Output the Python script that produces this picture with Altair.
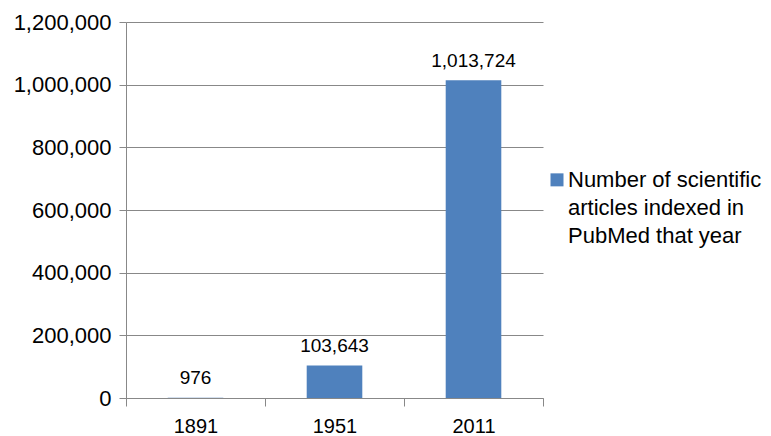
import altair as alt
import pandas as pd

years = ["1891", "1951", "2011"]
counts = [976, 103643, 1013724]
series_name = "Number of scientific articles indexed in PubMed that year"
legend_lines = ["Number of scientific", "articles indexed in", "PubMed that year"]
y_ticks = [0, 200000, 400000, 600000, 800000, 1000000, 1200000]

df = pd.DataFrame({"year": years, "count": counts, "series": [series_name] * len(years)})

FONT = "Liberation Sans"
GRID = "#888888"
BLUE = "#4F81BD"

label_expr = "[" + ",".join("'" + s + "'" for s in legend_lines) + "]"
# square swatch, raised so that it sits beside the first text line
SWATCH = "M-1,-2.1L1,-2.1L1,-0.1L-1,-0.1Z"

base = alt.Chart(df).encode(
    x=alt.X(
        "year:N",
        sort=years,
        scale=alt.Scale(paddingInner=0, paddingOuter=0),
        axis=alt.Axis(
            title=None, labelAngle=0, tickBand="extent", grid=False,
            domainColor=GRID, tickColor=GRID, tickSize=8, labelPadding=10,
            labelFontSize=20, labelFont=FONT, labelColor="#000000",
        ),
    ),
    y=alt.Y(
        "count:Q",
        scale=alt.Scale(domain=[0, 1200000], nice=False),
        axis=alt.Axis(
            title=None, values=y_ticks, format=",.0f", grid=True, gridColor=GRID,
            domainColor=GRID, tickColor=GRID, tickSize=7, labelPadding=8,
            labelFontSize=22, labelFont=FONT, labelColor="#000000",
        ),
    ),
)

bars = base.mark_bar(width=alt.RelativeBandSize(0.4)).encode(
    color=alt.Color(
        "series:N",
        scale=alt.Scale(range=[BLUE]),
        legend=alt.Legend(
            title=None, orient="none", legendX=420, legendY=154, padding=0,
            symbolType=SWATCH, symbolSize=169, symbolStrokeWidth=0,
            symbolOpacity=1, symbolFillColor=BLUE, labelOffset=0, labelFontSize=22,
            labelFont=FONT, labelColor="#000000", labelLimit=400, labelExpr=label_expr,
            labelBaseline="alphabetic",
        ),
    )
)

text = base.mark_text(baseline="alphabetic", dy=-13.5, fontSize=19, font=FONT, color="#000000").encode(
    text=alt.Text("count:Q", format=",")
)

chart = (
    (bars + text)
    .properties(
        width=417, height=376,
        autosize=alt.AutoSizeParams(type="none"),
        padding={"left": 118, "top": 14, "right": 220, "bottom": 40},
    )
    .configure(style={"guide-label": {"lineHeight": 28}})
    .configure_view(stroke=None)
)

chart.save("out.html", embed_options={"renderer": "svg", "actions": False})
